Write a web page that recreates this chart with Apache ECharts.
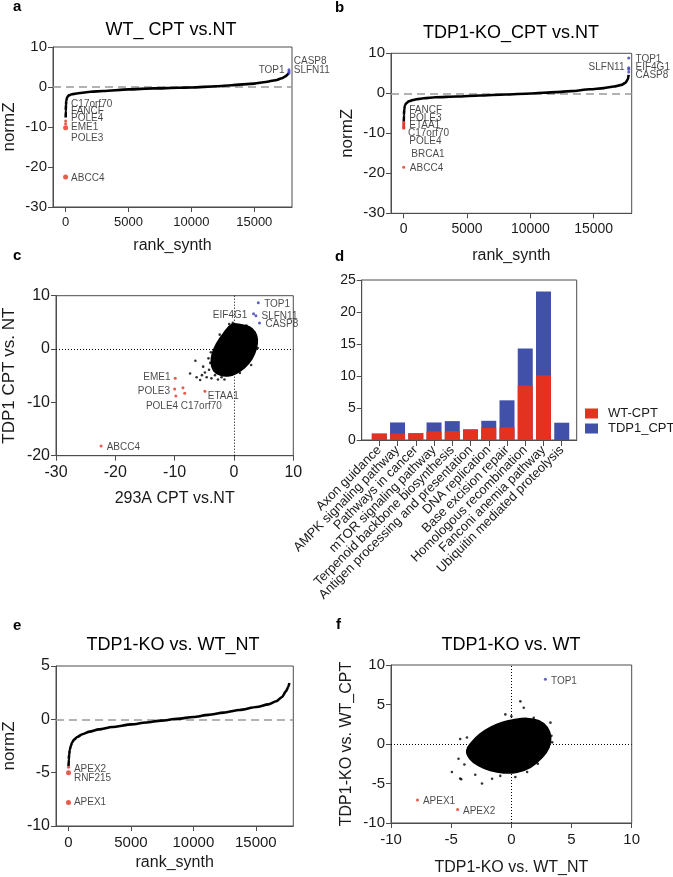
<!DOCTYPE html>
<html><head><meta charset="utf-8">
<script src="https://cdn.jsdelivr.net/npm/echarts@6/dist/echarts.min.js"></script>
<style>html,body{margin:0;padding:0;background:#fff}#c{width:673px;height:877px}</style>
</head><body><div id="c"></div><script>
// ---------- Panel a: WT_ CPT vs.NT ----------
const aRank  = [6, 15, 30, 60, 120, 250, 500, 1000, 2000, 3000, 5000, 7000, 9000, 10000, 12000, 13200, 15000, 15900, 16700, 17200, 17500, 17650, 17740];
const aNormZ = [-7.6, -6.0, -4.5, -3.4, -2.6, -2.1, -1.8, -1.55, -1.2, -1.0, -0.6, -0.35, -0.2, -0.12, 0.2, 0.45, 0.85, 1.25, 1.7, 2.2, 2.7, 3.1, 3.5];
const aRedRank = [1, 2, 3, 4];
const aRedZ    = [-22.5, -10.2, -9.2, -8.5];
const aBlueRank = [17760, 17760, 17760];
const aBlueZ    = [4.3, 3.9, 3.5];
const aLabelText = ['C17orf70', 'FANCF', 'POLE4', 'EME1', 'POLE3', 'ABCC4', 'CASP8', 'SLFN11', 'TOP1'];
const aLabelX    = [400, 400, 400, 400, 400, 400, 18100, 18100, 17450];
const aLabelY    = [-4.2, -6.1, -7.9, -10.1, -12.8, -22.8, 6.45, 4.2, 4.2];
const aLabelSide = ['r', 'r', 'r', 'r', 'r', 'r', 'r', 'r', 'l'];

// ---------- Panel b: TDP1-KO_CPT vs.NT ----------
const bRank  = [8, 20, 50, 100, 200, 400, 700, 1000, 1600, 2500, 4200, 6000, 8000, 10000, 12000, 13200, 14700, 15800, 16600, 17200, 17500, 17700, 17760];
const bNormZ = [-7.1, -5.5, -4.0, -3.0, -2.5, -2.0, -1.7, -1.5, -1.25, -1.0, -0.8, -0.55, -0.3, -0.05, 0.3, 0.55, 1.0, 1.3, 1.7, 2.1, 2.6, 3.5, 4.6];
const bRedRank = [1, 2, 3, 4, 5, 6, 7];
const bRedZ    = [-18.5, -8.75, -8.5, -8.2, -7.9, -7.6, -7.3];
const bBlueRank = [17765, 17765, 17765, 17765];
const bBlueZ    = [8.8, 6.4, 6.0, 5.3];
const bLabelText = ['FANCF', 'POLE3', 'ETAA1', 'C17orf70', 'POLE4', 'BRCA1', 'ABCC4', 'TOP1', 'EIF4G1', 'CASP8', 'SLFN11'];
const bLabelX    = [400, 400, 400, 300, 400, 560, 450, 18260, 18260, 18260, 17470];
const bLabelY    = [-4.3, -6.2, -8.1, -10.0, -12.0, -15.2, -18.7, 8.6, 6.5, 4.6, 6.6];
const bLabelSide = ['r', 'r', 'r', 'r', 'r', 'r', 'r', 'r', 'r', 'r', 'l'];

// ---------- Panel c: 293A CPT vs.NT  x  TDP1 CPT vs. NT ----------
const cCloudX = [-0.3, 1.2, 2.6, 3.5, 3.9, 3.7, 3.0, 1.8, 0.4, -1.0, -2.4, -3.4, -3.8, -3.6, -2.9, -1.8];
const cCloudY = [4.6, 4.5, 4.1, 3.2, 1.8, 0.0, -1.8, -3.4, -4.5, -5.0, -4.8, -4.0, -2.6, -0.8, 1.0, 2.8];
const cOutX = [-7.4, -6.5, -6.3, -5.7, -5.4, -4.9, -4.6, -4.2, -3.8, -3.2, -2.7, -2.1, -1.6, -1.3, -4.3, -5.2, -4.0, -3.9, -0.2, 2.1, 3.4, 4.0, -0.8, 1.0, 2.9, 3.0, -2.4, -3.3];
const cOutY = [-4.6, -2.2, -5.3, -5.8, -4.9, -4.4, -5.3, -3.9, -5.5, -4.9, -5.7, -5.3, -5.7, -4.4, -1.75, -3.3, -2.6, -0.6, 4.9, 4.4, 1.4, 0.2, 4.7, -4.5, -3.0, 3.4, 2.7, -4.0];
const cRedX = [-9.9, -10.0, -8.6, -9.8, -8.3, -4.9, -22.4];
const cRedY = [-5.5, -7.5, -7.25, -8.8, -8.3, -7.9, -18.2];
const cBlueX = [4.1, 3.3, 3.7, 4.3];
const cBlueY = [8.7, 6.6, 6.25, 4.9];
const cLabelText = ['TOP1', 'EIF4G1', 'SLFN11', 'CASP8', 'EME1', 'POLE3', 'POLE4', 'C17orf70', 'ETAA1', 'ABCC4'];
const cLabelX    = [5.0, 2.33, 4.56, 5.22, -10.6, -10.7, -9.33, -9.06, -4.5, -21.55];
const cLabelY    = [8.44, 6.4, 6.06, 4.6, -5.3, -7.9, -10.7, -10.7, -8.8, -18.4];
const cLabelSide = ['r', 'l', 'r', 'r', 'l', 'l', 'l', 'r', 'r', 'r'];

// ---------- Panel d: KEGG pathways ----------
const dCategories = ['Axon guidance', 'AMPK signaling pathway', 'Pathways in cancer', 'mTOR signaling pathway', 'Terpenoid backbone biosynthesis', 'Antigen processing and presentation', 'DNA replication', 'Base excision repair', 'Homologous recombination', 'Fanconi anemia pathway', 'Ubiquitin mediated proteolysis'];
const dWT   = [1.0, 1.0, 1.05, 1.35, 1.4, 1.65, 1.9, 1.97, 8.5, 10.1, 0];
const dTDP1 = [0, 1.74, 0, 1.39, 1.55, 0, 1.1, 4.23, 5.8, 13.1, 2.7];

// ---------- Panel e: TDP1-KO vs. WT_NT ----------
const eRank  = [5, 20, 53, 110, 184, 300, 447, 700, 1105, 1700, 2421, 3500, 5053, 6200, 7421, 8700, 10000, 11200, 12421, 13700, 15053, 16000, 16632, 17100, 17421, 17600, 17684];
const eNormZ = [-4.4, -3.8, -3.3, -2.85, -2.5, -2.15, -1.9, -1.65, -1.4, -1.15, -0.94, -0.72, -0.47, -0.3, -0.12, 0.05, 0.22, 0.42, 0.63, 0.88, 1.16, 1.4, 1.7, 2.1, 2.65, 3.05, 3.4];
const eRedRank = [0, 1, 2];
const eRedZ    = [-7.8, -5.0, -4.5];
const eLabelText = ['APEX2', 'RNF215', 'APEX1'];
const eLabelX    = [395, 395, 395];
const eLabelY    = [-4.7, -5.5, -7.8];
const eLabelSide = ['r', 'r', 'r'];

// ---------- Panel f: TDP1-KO vs. WT ----------
const fCloudX = [-3.69, -3.28, -2.58, -1.75, -0.78, 0.19, 1.31, 2.28, 2.97, 3.25, 3.11, 2.56, 1.58, 0.47, -0.64, -1.75, -2.72, -3.42];
const fCloudY = [-0.83, 0.21, 1.25, 2.08, 2.71, 3.04, 3.21, 2.92, 2.08, 0.83, -0.42, -1.67, -2.92, -3.54, -3.63, -3.33, -2.71, -1.875];
const fOutX = [0.75, 1.03, -0.5, 3.25, -4.94, -4.25, -4.17, -2.44, -1.6, -0.92, 0.33, 1.31, -4.39, -4.25, -3.69, 3.33, 3.39, 2.97, 2.69, 1.86, -3.9, -3.0, 2.2, 0.0];
const fOutY = [5.4, 4.58, 3.75, 2.7, -3.54, -4.375, -4.46, -5.0, -4.4, -4.04, -4.17, -3.54, -1.875, 0.625, 0.83, 1.04, 0.21, -0.63, 2.29, 3.33, -2.6, -3.9, -2.5, 3.5];
const fRedX = [-7.8, -4.47];
const fRedY = [-7.1, -8.3];
const fBlueX = [2.83];
const fBlueY = [8.2];
const fLabelText = ['TOP1', 'APEX1', 'APEX2'];
const fLabelX    = [3.25, -7.39, -4.06];
const fLabelY    = [8.0, -7.3, -8.46];
const fLabelSide = ['r', 'r', 'r'];

const rankTicks = [0, 5000, 10000, 15000];

// ================= build =================
const FONT = "'Liberation Sans', Arial, Helvetica, sans-serif";
const AX = '#4d4d4d', TXT = '#1a1a1a', RED = '#e3321f', BLUE = '#4150a8', PBLUE = '#3a3ab8';
const zip = (xs, ys) => xs.map((x, i) => [x, ys[i]]);

function grid(l, t, w, h) {
  return { left: l, top: t, width: w, height: h, show: true, borderColor: AX, borderWidth: 1, backgroundColor: 'transparent', containLabel: false };
}
function axis(gi, o) {
  const a = {
    gridIndex: gi, type: 'value', min: o.min, max: o.max,
    axisLine: { show: true, onZero: false, lineStyle: { color: AX, width: 1 } },
    axisTick: { show: true, length: 5, lineStyle: { color: AX, width: 1 } },
    axisLabel: { fontSize: o.size || 13, color: TXT, fontFamily: FONT, margin: o.margin || 6, formatter: v => String(v),
                 hideOverlap: false, showMinLabel: true, showMaxLabel: true },
    splitLine: { show: false },
    name: o.name || '', nameLocation: 'middle', nameGap: o.gap || 30,
    nameTextStyle: { fontSize: o.nameSize || 16, color: TXT, fontFamily: FONT }
  };
  if (o.interval) a.interval = o.interval;
  if (o.custom) { a.axisTick.customValues = o.custom; a.axisLabel.customValues = o.custom; }
  return a;
}
function labels(gi, texts, xs, ys, sides) {
  return {
    type: 'scatter', xAxisIndex: gi, yAxisIndex: gi, clip: false, silent: true, z: 10,
    symbolSize: 1, itemStyle: { color: 'rgba(0,0,0,0)' },
    data: texts.map((t, i) => ({
      name: t, value: [xs[i], ys[i]],
      label: { show: true, formatter: '{b}', position: sides[i] === 'l' ? 'left' : 'right', distance: 0,
               fontSize: 10, color: TXT, fontFamily: FONT }
    }))
  };
}
function pts(gi, data, color, size, z) {
  return { type: 'scatter', xAxisIndex: gi, yAxisIndex: gi, data: data, symbolSize: size, itemStyle: { color: color }, z: z || 5, silent: true };
}
function curve(gi, data) {
  return {
    type: 'line', xAxisIndex: gi, yAxisIndex: gi, data: data, smooth: 0.25, smoothMonotone: 'x',
    showSymbol: false, lineStyle: { color: '#000', width: 2.6 }, z: 3, silent: true,
    markLine: { silent: true, symbol: 'none', label: { show: false }, z: 1,
      lineStyle: { color: '#999', width: 1.5, type: [8, 5] }, data: [{ yAxis: 0 }] }
  };
}
function cloud(gi, xs, ys) {
  return {
    type: 'custom', xAxisIndex: gi, yAxisIndex: gi, silent: true, z: 3,
    data: zip(xs, ys), encode: { x: 0, y: 1 },
    renderItem: function (params, api) {
      if (params.dataIndex !== 0) return null;
      const p = xs.map((x, i) => api.coord([x, ys[i]]));
      return { type: 'polygon', shape: { points: p, smooth: 0.4 }, style: { fill: '#000', stroke: '#000', lineWidth: 2 } };
    }
  };
}
function cross(gi, data) {
  return {
    type: 'scatter', xAxisIndex: gi, yAxisIndex: gi, data: data, symbolSize: 2.6, itemStyle: { color: '#000' }, z: 2, silent: true,
    markLine: { silent: true, symbol: 'none', label: { show: false }, z: 1,
      lineStyle: { color: '#000', width: 1, type: [1, 2] }, data: [{ xAxis: 0 }, { yAxis: 0 }] }
  };
}

const grids = [
  grid(50, 47, 242, 160),
  grid(391, 53.3, 240.7, 160),
  grid(53.3, 295.7, 240, 160),
  grid(361.7, 280, 215, 160),
  grid(53.3, 666, 240, 160),
  grid(391, 665, 240.7, 160)
];

const dIdx = dCategories.map((c, i) => i);
const xAxes = [
  axis(0, { min: -1000, max: 18000, custom: rankTicks, name: 'rank_synth', gap: 31, margin: 9, size: 13 }),
  axis(1, { min: -1000, max: 18000, custom: rankTicks, name: 'rank_synth', gap: 34, margin: 9, size: 14 }),
  axis(2, { min: -30, max: 10, interval: 10, name: '293A CPT vs.NT', gap: 35, margin: 9, size: 16 }),
  axis(3, { min: -0.965, max: 10.82, custom: dIdx, margin: 8, size: 13 }),
  axis(4, { min: -1000, max: 18000, custom: rankTicks, name: 'rank_synth', gap: 29, margin: 9, size: 15 }),
  axis(5, { min: -10, max: 10, interval: 5, name: 'TDP1-KO vs. WT_NT', gap: 37, margin: 9, size: 15 })
];
xAxes[3].axisLabel.rotate = 45;
xAxes[3].axisLabel.formatter = v => dCategories[Math.round(v)] || '';
xAxes[3].axisLabel.interval = 0;
xAxes[3].axisTick.length = 6;

const yAxes = [
  axis(0, { min: -30, max: 10, interval: 10, name: 'normZ', gap: 35, nameSize: 17, size: 15 }),
  axis(1, { min: -30, max: 10, interval: 10, name: 'normZ', gap: 35, nameSize: 17, size: 15 }),
  axis(2, { min: -20, max: 10, interval: 10, name: 'TDP1 CPT vs. NT', gap: 38, nameSize: 17, size: 16 }),
  axis(3, { min: 0, max: 25, interval: 5, size: 14 }),
  axis(4, { min: -10, max: 5, interval: 5, name: 'normZ', gap: 38, nameSize: 17, size: 16 }),
  axis(5, { min: -10, max: 10, interval: 5, name: 'TDP1-KO vs. WT_CPT', gap: 36, nameSize: 16, size: 15 })
];

// stacked totals for the blue (TDP1_CPT) segments drawn behind the red ones
const dTotal = dWT.map((v, i) => v + dTDP1[i]);

const series = [
  // a
  curve(0, zip(aRank, aNormZ)),
  pts(0, zip(aRedRank, aRedZ).map((d, i) => ({ value: d, symbolSize: i < 2 ? 5 : 3 })), RED, 3),
  pts(0, zip(aBlueRank, aBlueZ), PBLUE, 3),
  labels(0, aLabelText, aLabelX, aLabelY, aLabelSide),
  // b
  curve(1, zip(bRank, bNormZ)),
  pts(1, zip(bRedRank, bRedZ), RED, 3),
  pts(1, zip(bBlueRank, bBlueZ), PBLUE, 3),
  labels(1, bLabelText, bLabelX, bLabelY, bLabelSide),
  // c
  cross(2, zip(cOutX, cOutY)),
  cloud(2, cCloudX, cCloudY),
  pts(2, zip(cRedX, cRedY), RED, 3),
  pts(2, zip(cBlueX, cBlueY), PBLUE, 3),
  labels(2, cLabelText, cLabelX, cLabelY, cLabelSide),
  // d
  { type: 'bar', name: 'TDP1_CPT', xAxisIndex: 3, yAxisIndex: 3, barWidth: 15, barGap: '-100%', data: zip(dIdx, dTotal), itemStyle: { color: BLUE }, silent: true, z: 2 },
  { type: 'bar', name: 'WT-CPT', xAxisIndex: 3, yAxisIndex: 3, barWidth: 15, barGap: '-100%', data: zip(dIdx, dWT), itemStyle: { color: RED }, silent: true, z: 3 },
  // e
  curve(4, zip(eRank, eNormZ)),
  pts(4, zip(eRedRank, eRedZ).map((d, i) => ({ value: d, symbolSize: i < 2 ? 5 : 3 })), RED, 3),
  labels(4, eLabelText, eLabelX, eLabelY, eLabelSide),
  // f
  cross(5, zip(fOutX, fOutY)),
  cloud(5, fCloudX, fCloudY),
  pts(5, zip(fRedX, fRedY), RED, 3),
  pts(5, zip(fBlueX, fBlueY), PBLUE, 3),
  labels(5, fLabelText, fLabelX, fLabelY, fLabelSide)
];

function txt(s, x, y, size, bold) {
  return { type: 'text', x: x, y: y, silent: true,
    style: { text: s, fontSize: size, fontWeight: bold ? 'bold' : 'normal', fontFamily: FONT, fill: '#000',
             textAlign: bold ? 'left' : 'center', textVerticalAlign: 'middle' } };
}

const chart = echarts.init(document.getElementById('c'), null, { renderer: 'canvas' });
chart.setOption({
  animation: false,
  backgroundColor: '#fff',
  textStyle: { fontFamily: FONT },
  grid: grids, xAxis: xAxes, yAxis: yAxes, series: series,
  legend: {
    data: ['WT-CPT', 'TDP1_CPT'], orient: 'vertical', left: 580, top: 402,
    itemWidth: 13, itemHeight: 10, itemGap: 2, icon: 'rect',
    textStyle: { fontSize: 13, color: TXT, fontFamily: FONT, padding: [0, 0, 0, 5] }, selectedMode: false
  },
  graphic: [
    txt('a', 13, 7, 15, true), txt('b', 335, 8, 15, true), txt('c', 13, 256, 15, true),
    txt('d', 335, 257, 15, true), txt('e', 13, 626, 15, true), txt('f', 336, 625, 15, true),
    txt('WT_ CPT vs.NT', 171, 30, 18), txt('TDP1-KO_CPT vs.NT', 511, 33, 18),
    txt('TDP1-KO vs. WT_NT', 173, 645, 18), txt('TDP1-KO vs. WT', 511, 645, 18)
  ]
});
</script></body></html>
